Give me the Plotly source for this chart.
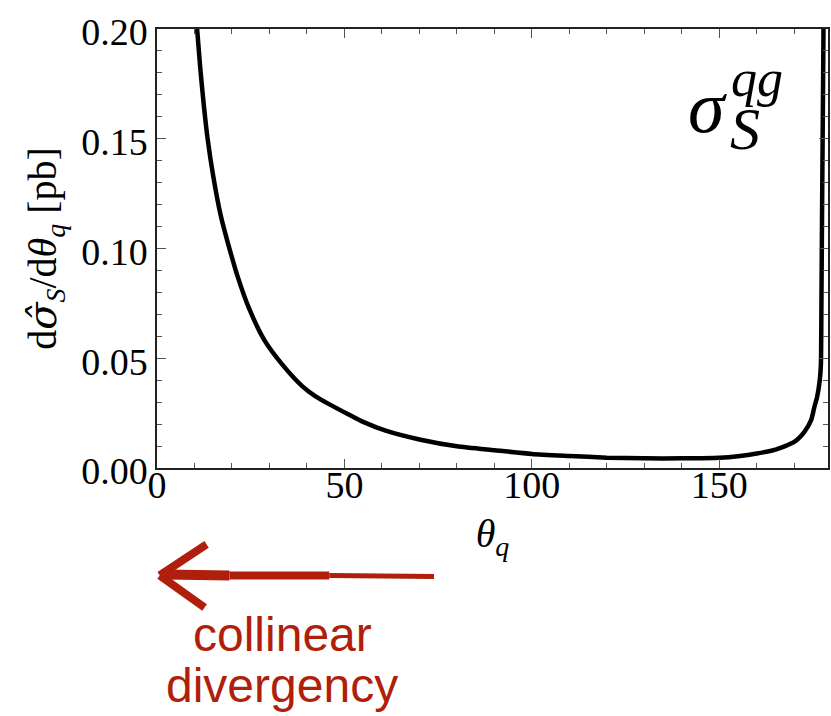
import plotly.graph_objects as go

# ---- data ----
theta_q = [10.7, 11.5, 12.5, 13.5, 15.0, 17.0, 18.9, 21.5, 24.7, 28.6, 33.5, 38.8, 42.0,
           46.0, 51.0, 55.0, 61.0, 70.0, 80.0, 90.0, 100.0, 110.0, 120.0, 130.0, 140.0,
           150.0, 155.0, 160.0, 165.0, 170.0, 172.7, 174.5, 175.4, 176.1, 176.8,
           177.1, 177.25, 177.4, 177.8]
dsigma = [0.200, 0.183, 0.165, 0.150, 0.133, 0.115, 0.1026, 0.0873, 0.0721, 0.0584,
          0.0470, 0.0372, 0.0330, 0.0290, 0.0245, 0.0210, 0.0170, 0.0130, 0.0099,
          0.0081, 0.0064, 0.0055, 0.0047, 0.0044, 0.0044, 0.0047, 0.0054, 0.0066,
          0.0084, 0.0119, 0.0165, 0.0218, 0.0280, 0.0324, 0.0400, 0.0470, 0.0750,
          0.1130, 0.2000]

x_range = [0, 179]
x_ticks = [0, 50, 100, 150]
y_ticks = [0.00, 0.05, 0.10, 0.15, 0.20]
y_tick_labels = ["0.00", "0.05", "0.10", "0.15", "0.20"]

RED = "#b01e0c"
SERIF = "Liberation Serif"
SANS = "Liberation Sans"

fig = go.Figure()
fig.add_trace(go.Scatter(x=theta_q, y=dsigma, mode="lines",
                         line=dict(color="black", width=4.5, shape="spline", smoothing=0.6),
                         showlegend=False, hoverinfo="skip"))
# empty trace so the label axis (x2) exists
fig.add_trace(go.Scatter(x=[], y=[], xaxis="x2", yaxis="y", showlegend=False, hoverinfo="skip"))

axis_common = dict(
    showgrid=False, zeroline=False, showline=True, linecolor="#222", linewidth=1.5,
    mirror="ticks", ticks="inside", ticklen=9, tickwidth=1.2, tickcolor="#555",
    tickfont=dict(family=SERIF, size=38, color="black"),
)

fig.update_layout(
    width=831, height=716,
    margin=dict(l=157, r=1, t=29, b=248),
    plot_bgcolor="white", paper_bgcolor="white",
    font=dict(family=SERIF, color="black"),
    xaxis=dict(range=x_range, tickvals=x_ticks, showticklabels=False,
               minor=dict(dtick=10, ticks="inside", ticklen=5, tickcolor="#555", tickwidth=1.2),
               **axis_common),
    xaxis2=dict(range=x_range, overlaying="x", anchor="free", position=0.021, side="bottom",
                tickvals=x_ticks, showline=False, showgrid=False, zeroline=False, ticks="",
                tickfont=dict(family=SERIF, size=38, color="black"),
                title=dict(text="<i>θ</i><sub><i>q</i></sub>", font=dict(family=SERIF, size=40), standoff=14)),
    yaxis=dict(range=[0, 0.2], tickvals=y_ticks, ticktext=y_tick_labels, ticklabelshift=3,
               minor=dict(dtick=0.01, ticks="inside", ticklen=5, tickcolor="#555", tickwidth=1.2),
               title=dict(text="d<i><span style=\"font-family:'DejaVu Serif'\">σ̂</span></i>"
                               "<sub><i>S</i></sub>/d<i>θ</i><sub><i>q</i></sub> [pb]",
                          font=dict(family=SERIF, size=40), standoff=12),
               **axis_common),
)

# sigma_S^{qg} label
fig.add_annotation(xref="paper", yref="paper", x=0.82, y=0.822, text="<i>σ</i>",
                   showarrow=False, xanchor="center", yanchor="middle",
                   font=dict(family=SERIF, size=74, color="black"))
fig.add_annotation(xref="paper", yref="paper", x=0.852, y=0.888, text="<i>qg</i>",
                   showarrow=False, xanchor="left", yanchor="middle",
                   font=dict(family=SERIF, size=52, color="black"))
fig.add_annotation(xref="paper", yref="paper", x=0.851, y=0.772, text="<i>S</i>",
                   showarrow=False, xanchor="left", yanchor="middle",
                   font=dict(family=SERIF, size=60, color="black"))

# red hand-drawn arrow (decoration)
def px2paper(px, py):
    return (px - 157.3) / 672.7, (467.7 - py) / 438.4

def seg(p0, p1, w):
    x0, y0 = px2paper(*p0)
    x1, y1 = px2paper(*p1)
    fig.add_shape(type="line", xref="paper", yref="paper", x0=x0, y0=y0, x1=x1, y1=y1,
                  line=dict(color=RED, width=w))

seg((435, 576), (330, 575), 5)
seg((330, 575), (230, 575), 8)
seg((230, 575), (165, 574), 10)
seg((160, 575), (207, 544), 8)
seg((160, 575), (205, 607), 8)

# red text
cx, _ = px2paper(283, 0)
_, y1 = px2paper(0, 634)
_, y2 = px2paper(0, 685)
fig.add_annotation(xref="paper", yref="paper", x=cx, y=y1, text="collinear",
                   showarrow=False, xanchor="center", yanchor="middle",
                   font=dict(family=SANS, size=48, color=RED))
fig.add_annotation(xref="paper", yref="paper", x=cx, y=y2, text="divergency",
                   showarrow=False, xanchor="center", yanchor="middle",
                   font=dict(family=SANS, size=48, color=RED))

fig.write_html("out.html")
